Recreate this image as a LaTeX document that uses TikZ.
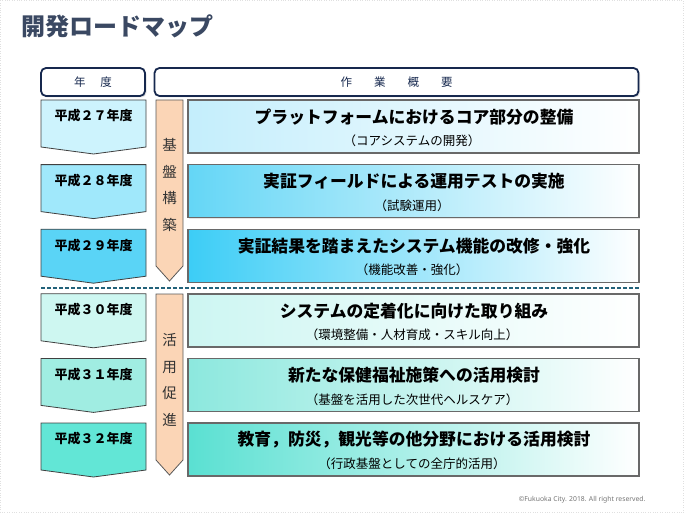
\documentclass[tikz,border=0pt]{standalone}
\usepackage{fontspec}
\setmainfont{Noto Sans CJK JP}
\newfontfamily\latinfont{Noto Sans}
\usetikzlibrary{positioning,shadows,calc}
\definecolor{TitleSlate}{RGB}{58,72,98}
\definecolor{HeadNavy}{RGB}{22,40,78}
\definecolor{Peach}{RGB}{251,213,182}
\definecolor{RuleTeal}{RGB}{34,98,122}
\definecolor{EdgeGray}{RGB}{105,105,105}
\definecolor{YearA}{RGB}{205,243,253}
\definecolor{YearB}{RGB}{160,232,251}
\definecolor{YearC}{RGB}{90,212,246}
\definecolor{YearD}{RGB}{206,247,241}
\definecolor{YearE}{RGB}{160,237,226}
\definecolor{YearF}{RGB}{98,230,214}
\definecolor{TaskA}{RGB}{196,238,252}
\definecolor{TaskB}{RGB}{100,214,246}
\definecolor{TaskC}{RGB}{60,205,246}
\definecolor{TaskD}{RGB}{205,246,242}
\definecolor{TaskE}{RGB}{140,232,222}
\definecolor{TaskF}{RGB}{90,224,210}
\tikzset{
  headbox/.style={
    draw=HeadNavy,
    line width=1.8pt,
    fill=white,
    rounded corners=5pt,
    minimum height=28pt,
    text=HeadNavy,
    font=\fontsize{11.5}{13}\selectfont,
    drop shadow={shadow xshift=1.5pt,shadow yshift=-1.5pt,fill=gray!45}
  },
  yearshape/.style={draw=black!75,line width=0.8pt},
  yearlabel/.style={font=\bfseries\fontsize{13}{15}\selectfont},
  taskbox/.style={
    draw=EdgeGray,
    line width=1.4pt,
    minimum width=451pt,
    minimum height=53pt,
    right color=white,
    drop shadow={shadow xshift=1pt,shadow yshift=-1pt,fill=gray!40}
  },
  tasktitle/.style={font=\bfseries\fontsize{16.8}{18}\selectfont},
  tasksub/.style={font=\fontsize{12.5}{14}\selectfont},
  phasearrow/.style={draw=black!65,line width=0.8pt,fill=Peach},
  phaselabel/.style={align=center,text=black!80,font=\fontsize{14.5}{26.5}\selectfont}
}
\begin{document}
\begin{tikzpicture}[x=1pt,y=-1pt]
  \useasboundingbox (0,0) rectangle (684,513);
  \draw[black!12,dotted] (0.5,0.5) rectangle (683.5,512.5);

  \node[anchor=west,text=TitleSlate,font=\bfseries\fontsize{24}{26}\selectfont] (title) at (18,26) {開発ロードマップ};

  % header
  \node[headbox,minimum width=104pt] (hyear) at (93,82) {年\hspace{15pt}度};
  \node[headbox,minimum width=484pt] (htask) at (396.5,82) {作\hspace{22pt}業\hspace{22pt}概\hspace{22pt}要};

  % rows
  \foreach \t/\yr/\ycol/\tcol/\main/\sub [count=\i] in {
      100/２７/YearA/TaskA/{プラットフォームにおけるコア部分の整備}/{（コアシステムの開発）},
      164.6/２８/YearB/TaskB/{実証フィールドによる運用テストの実施}/{（試験運用）},
      229.2/２９/YearC/TaskC/{実証結果を踏まえたシステム機能の改修・強化}/{（機能改善・強化）},
      293.8/３０/YearD/TaskD/{システムの定着化に向けた取り組み}/{（環境整備・人材育成・スキル向上）},
      358.4/３１/YearE/TaskE/{新たな保健福祉施策への活用検討}/{（基盤を活用した次世代ヘルスケア）},
      423/３２/YearF/TaskF/{教育，防災，観光等の他分野における活用検討}/{（行政基盤としての全庁的活用）}} {
    \draw[yearshape,fill=\ycol] (41,\t) -- (146,\t) -- (146,\t+47) -- (93.5,\t+54) -- (41,\t+47) -- cycle;
    \node[yearlabel] (year\i) at (93.5,\t+16) {平成\yr 年度};
    \node[taskbox,left color=\tcol] (task\i) at (413.5,\t+26.5) {};
    \node[tasktitle] (main\i) at (414,\t+17) {\main};
    \node[tasksub] (sub\i) at (412,\t+41) {\sub};
  }

  % phase arrows
  \draw[phasearrow] (156,100) -- (183,100) -- (183,266) -- (169.5,281) -- (156,266) -- cycle;
  \node[phaselabel] (phase1) at (169.5,185) {基\\盤\\構\\築};
  \draw[phasearrow] (156,294) -- (183,294) -- (183,460) -- (169.5,475) -- (156,460) -- cycle;
  \node[phaselabel] (phase2) at (169.5,380) {活\\用\\促\\進};

  \draw[RuleTeal,line width=1.6pt,dash pattern=on 4pt off 2pt] (41,288) -- (640,288);

  \node[anchor=east,text=black!55,font=\latinfont\fontsize{6.8}{8}\selectfont] (copy) at (649,500) {©Fukuoka City. 2018. All right reserved.};
\end{tikzpicture}
\end{document}
